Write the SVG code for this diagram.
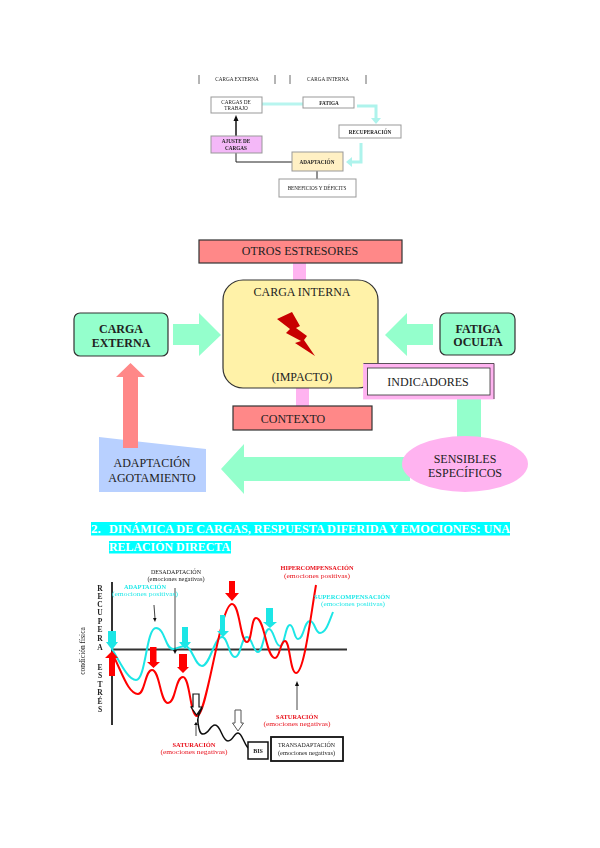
<svg xmlns="http://www.w3.org/2000/svg" width="600" height="848" viewBox="0 0 600 848">
<defs>
<filter id="soft" x="0" y="0" width="100%" height="100%" filterUnits="userSpaceOnUse" primitiveUnits="userSpaceOnUse"><feGaussianBlur stdDeviation="0.4"/></filter>
</defs>
<style>
text{font-family:"Liberation Serif","DejaVu Serif",serif;text-anchor:middle;fill:#222}
.t{font-size:5.2px}
.tb{font-size:5.2px;font-weight:bold}
.w{fill:#fff;stroke:#999;stroke-width:1}
.big{font-size:12px}
.bigb{font-size:12px;font-weight:bold}
.box{stroke:#333;stroke-width:1.2}
.lab{font-size:6px}
.labb{font-size:6px;font-weight:bold}
.red{fill:#e8111a}
.cy{fill:#22e8e8}
.letter{font-size:7.500px;font-weight:bold}
.r{fill:#f00}
.c{fill:#1ee6e6}
.curve{fill:none;stroke-width:2}
.thin{fill:none;stroke:#111;stroke-width:0.800}
.head{font-size:13px;font-weight:bold;fill:#fff;text-anchor:start}
</style>
<rect width="600" height="848" fill="#fff"/>
<g id="connectors">
<g filter="url(#soft)">
<path d="M262 104H303" fill="none" stroke="#b8f5ef" stroke-width="3"/>
<path d="M357 106H376V118" fill="none" stroke="#aef3ec" stroke-width="3"/>
<path d="M371 118h10l-5 6z" fill="#aef3ec"/>
<path d="M361 143V162H350" fill="none" stroke="#aef3ec" stroke-width="3"/>
<path d="M352 157v10l-6-5z" fill="#aef3ec"/>
<path d="M292 162H236V153" fill="none" stroke="#222" stroke-width="1"/>
<path d="M236 136V120" fill="none" stroke="#111" stroke-width="1.500"/>
<path d="M233.500 121L236 115L238.500 121z" fill="#111"/>
<path d="M317 171V179" stroke="#222" stroke-width="1"/>
</g>
<rect x="293" y="262" width="13" height="20" fill="#ffb3f0"/>
<rect x="296" y="387" width="13" height="20" fill="#ffb3f0"/>
<path d="M173 324h26v-11l22 22-22 21v-11h-26z" fill="#94ffcc"/>
<path d="M433 324h-26v-11l-22 22 22 21v-11h26z" fill="#94ffcc"/>
<path d="M123 448V377h-7l14.500-14 14.500 14h-7V448z" fill="#ff8888"/>
<rect x="457" y="398" width="24" height="44" fill="#94ffcc"/>
<path d="M410 457H244v-13l-23 25 23 25v-13H410z" fill="#94ffcc"/>
</g>
<g filter="url(#soft)">
<g id="n-header">
<path d="M199 75v9M275 75v9M290 75v9M366 75v9" stroke="#444" stroke-width="0.800"/>
<text class="t" x="237" y="81">CARGA EXTERNA</text>
<text class="t" x="328" y="81">CARGA INTERNA</text>
</g>
<g id="n-cargas"><rect class="w" x="211" y="97" width="51" height="16"/><text class="t" x="236" y="104">CARGAS DE</text><text class="t" x="236" y="110">TRABAJO</text></g>
<g id="n-fatiga"><rect class="w" x="303" y="97" width="51" height="11"/><text class="tb" x="329" y="105">FATIGA</text></g>
<g id="n-recuperacion"><rect class="w" x="339" y="125" width="62" height="13"/><text class="tb" x="370" y="133.500">RECUPERACIÓN</text></g>
<g id="n-ajuste"><rect x="211" y="136" width="51" height="17" fill="#f4b8f8" stroke="#999"/><text class="tb" x="236" y="143">AJUSTE DE</text><text class="tb" x="236" y="149.500">CARGAS</text></g>
<g id="n-adaptacion"><rect x="292" y="152" width="51" height="19" fill="#fff0c4" stroke="#999"/><text class="tb" x="317" y="163.500">ADAPTACIÓN</text></g>
<g id="n-beneficios"><rect class="w" x="279" y="179" width="77" height="18"/><text class="t" x="317" y="190">BENEFICIOS Y DÉFICITS</text></g>
</g>

<g id="n-otros"><rect class="box" x="199" y="240" width="203" height="23" fill="#ff8888"/><text class="big" x="300" y="255">OTROS ESTRESORES</text></g>
<g id="n-contexto"><rect class="box" x="233" y="406" width="139" height="24" fill="#ff8888"/><text class="big" x="293" y="423">CONTEXTO</text></g>
<g id="n-interna">
<rect x="223" y="280" width="155" height="108" rx="20" fill="#fff2a8" stroke="#333" stroke-width="1.200"/>
<text class="big" x="302" y="296">CARGA INTERNA</text>
<text class="big" x="302" y="381">(IMPACTO)</text>
<path d="M277 319L292 312L300 326L296 328L307 336L304 340L315 356L295 343L301 341L286 333L290 329z" fill="#c80000"/>
</g>
<g id="n-externa"><rect class="box" x="74" y="313" width="94" height="43" rx="6" fill="#94ffcc" stroke-width="1.500"/><text class="bigb" x="121" y="333">CARGA</text><text class="bigb" x="121" y="347">EXTERNA</text></g>
<g id="n-oculta"><rect class="box" x="440" y="313" width="75" height="42" rx="6" fill="#94ffcc"/><text class="bigb" x="478" y="333">FATIGA</text><text class="bigb" x="478" y="346">OCULTA</text></g>
<g id="n-indicadores"><rect x="363.500" y="363.500" width="130.500" height="35.500" fill="#ffb3f0" stroke="#ffb3f0" stroke-width="0.800"/><path d="M363.500 363.500H494V399" fill="none" stroke="#333" stroke-width="0.800"/><rect x="367.500" y="368" width="122.500" height="27" fill="#fff" stroke="#333" stroke-width="0.800"/><text class="big" x="428" y="386">INDICADORES</text></g>
<g id="n-sensibles"><ellipse cx="465" cy="464" rx="63" ry="28" fill="#ffb3f0"/><text class="big" x="465" y="463">SENSIBLES</text><text class="big" x="465" y="477">ESPECÍFICOS</text></g>
<g id="n-agotamiento"><path d="M99 437L123 439.700V448H138V441.400L206 449V492H99z" fill="#b8d0ff"/><text class="big" x="152" y="467">ADAPTACIÓN</text><text class="big" x="152" y="482">AGOTAMIENTO</text></g>

<g id="heading">
<rect x="91" y="522" width="419" height="13.500" fill="#0ff"/>
<rect x="109" y="541" width="122" height="12.500" fill="#0ff"/>
<text class="head" x="91" y="533">2.</text>
<text class="head" x="109" y="533" textLength="401" lengthAdjust="spacingAndGlyphs">DINÁMICA DE CARGAS, RESPUESTA DIFERIDA Y EMOCIONES: UNA</text>
<text class="head" x="109" y="551" textLength="121" lengthAdjust="spacingAndGlyphs">RELACIÓN DIRECTA</text>
</g>

<g id="chart" filter="url(#soft)">
<path d="M112 582V725" stroke="#333" stroke-width="2"/>
<path d="M112 649.500H347" stroke="#333" stroke-width="2.200"/>
<text class="letter" x="100" y="590.500">R</text><text class="letter" x="100" y="598.500">E</text><text class="letter" x="100" y="606.500">C</text><text class="letter" x="100" y="615">U</text><text class="letter" x="100" y="623.500">P</text><text class="letter" x="100" y="632">E</text><text class="letter" x="100" y="640.500">R</text><text class="letter" x="100" y="649.500">A</text>
<text class="letter" x="100" y="669.500">E</text><text class="letter" x="100" y="678">S</text><text class="letter" x="100" y="686.500">T</text><text class="letter" x="100" y="695">R</text><text class="letter" x="100" y="703.500">É</text><text class="letter" x="100" y="712">S</text>
<text transform="translate(85 651) rotate(-90)" style="font-size:7.500px">condición física</text>
<path class="curve" stroke="#1ee6e6" d="M112 649C120 662 128 680 136 680C146 680 146 628 156 628C165 628 165 649 173 649C177 649 180 646 185 646C192 646 195 666 202 666C210 666 214 637 222 637C228 637 229 657 235 657C241 657 241 637 247 637C252 637 253 652 258 652C263 652 264 629 269 629C274 629 275 646 280 646C285 646 285 625 290 625C294 625 294 639 298 639C304 639 304 621 310 621C315 621 315 633 320 633C326 633 329 622 333 612"/>
<path class="curve" stroke="#f00" d="M112 653C122 672 128 694 138 694C145 694 145 670 152 670C160 670 160 703 168 703C176 703 175 677 183 677C190 677 190 716 197 716C207 716 220 604 232 604C240 604 240 642 247 642C252 642 251 618 256 618C265 618 266 658 275 658C280 658 280 641 285 641C290 641 290 673 296 673C304 673 310 620 316 585"/>
<path d="M192 706C194 712 195 714 197 714C199 714 200 711 202 708C199 714 197 718 198 723C199 730 200 734 203 734C209 734 210 725 215 725C221 725 222 741 228 741C233 741 234 733 238 733C242 733 243 742 248 748" fill="none" stroke="#111" stroke-width="1.500"/>
<path class="c" d="M108 631h8v11h2l-6 8-6-8h2z"/>
<path class="r" d="M109 676V658h-4l7-7 6 7h-3v18z"/>
<path class="r" d="M150 647h6.500v15h3.500l-6.500 6-6.500-6h3z"/>
<path class="r" d="M179 654h8v13h2l-6 6-6-6h2z"/>
<path class="c" d="M182 627h6v15h3l-6 7-6-7h3z"/>
<path class="c" d="M220 615h5v16h4l-6 6-6-6h3z"/>
<path class="r" d="M229 581h6v12h4l-7 8-7-8h4z"/>
<path class="c" d="M266 608h7v14h4l-7 6-7-6h3z"/>
<path d="M193 694h6v13h3l-5.500 8-5.500-8h2z" fill="#fff" stroke="#111" stroke-width="1.200"/>
<path d="M235 710h6v13h2.500l-5.500 8-5.500-8h2.500z" fill="#fff" stroke="#555" stroke-width="1"/>
<path class="thin" d="M154 605L155 619"/><path d="M153 618L155 622L156.500 618z" fill="#111"/>
<path class="thin" d="M175 588V651"/><path d="M173 650L175 654L177 650z" fill="#111"/>
<path class="thin" d="M196 736V725"/><path d="M194 725L196 722L198 725z" fill="#111"/>
<path class="thin" d="M297 710V685"/><path d="M295 686L297 681L299 686z" fill="#111"/>
<rect x="248" y="742" width="20" height="17" fill="#fff" stroke="#111" stroke-width="1.500"/>
<text class="labb" x="258" y="752.500">BIS</text>
<rect x="271" y="737" width="72" height="24" fill="#fff" stroke="#111" stroke-width="1.800"/>
<text class="lab" x="306.500" y="747" textLength="57" lengthAdjust="spacingAndGlyphs">TRANSADAPTACIÓN</text>
<text class="lab" x="306.500" y="755" textLength="57" lengthAdjust="spacingAndGlyphs">(emociones negativas)</text>
<text class="lab" x="176" y="574" textLength="50" lengthAdjust="spacingAndGlyphs">DESADAPTACIÓN</text>
<text class="lab" x="176" y="581" textLength="57" lengthAdjust="spacingAndGlyphs">(emociones negativas)</text>
<text class="labb cy" x="145" y="589" textLength="42" lengthAdjust="spacingAndGlyphs">ADAPTACIÓN</text>
<text class="lab cy" x="145" y="596" textLength="66" lengthAdjust="spacingAndGlyphs">(emociones positivas)</text>
<text class="labb red" x="317" y="570" textLength="73" lengthAdjust="spacingAndGlyphs">HIPERCOMPENSACIÓN</text>
<text class="lab red" x="317" y="578" textLength="66" lengthAdjust="spacingAndGlyphs">(emociones positivas)</text>
<text class="labb cy" x="352" y="599" textLength="76" lengthAdjust="spacingAndGlyphs">SUPERCOMPENSACIÓN</text>
<text class="lab cy" x="353" y="606" textLength="64" lengthAdjust="spacingAndGlyphs">(emociones positivas)</text>
<text class="labb red" x="297" y="719" textLength="42" lengthAdjust="spacingAndGlyphs">SATURACIÓN</text>
<text class="lab red" x="297" y="726" textLength="67" lengthAdjust="spacingAndGlyphs">(emociones negativas)</text>
<text class="labb red" x="194" y="747" textLength="43" lengthAdjust="spacingAndGlyphs">SATURACIÓN</text>
<text class="lab red" x="194" y="754" textLength="67" lengthAdjust="spacingAndGlyphs">(emociones negativas)</text>
</g>
</svg>
